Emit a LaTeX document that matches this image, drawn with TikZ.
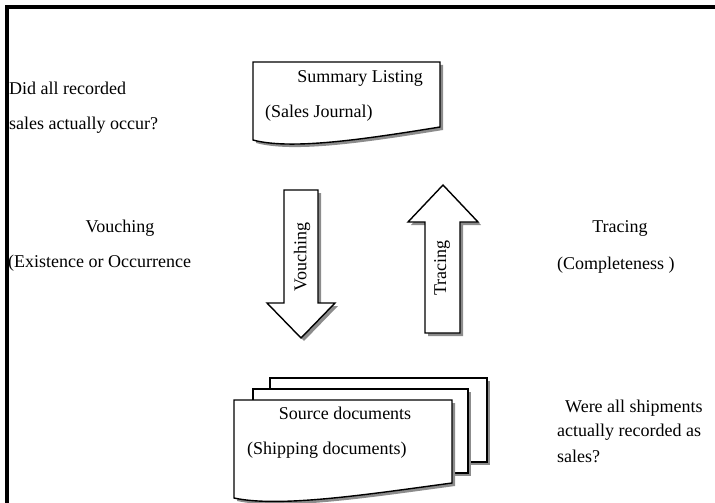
\documentclass[tikz,border=0pt]{standalone}
\usepackage{fontspec}
\setmainfont{Liberation Serif}
\begin{document}
\begin{tikzpicture}[x=1pt,y=1pt,
  shp/.style={draw=black, line width=1.4pt, fill=white, line join=miter},
  shd/.style={fill=black!45, draw=none, xshift=3pt, yshift=-3pt},
  lbl/.style={font=\fontsize{18}{21}\selectfont, inner sep=0pt},
  frame/.style={line width=4pt}]
\useasboundingbox (0,0) rectangle (715,-503);
\clip (0,0) rectangle (715,-503);
% frame
\draw[frame] (7,-540) -- (7,-7) -- (760,-7);
% summary listing document
\fill[shd] (253,-62) -- (440,-62) -- (440,-127) .. controls (360,-140) and (290,-150) .. (253,-140) -- cycle;
\draw[shp] (253,-62) -- (440,-62) -- (440,-127) .. controls (360,-140) and (290,-150) .. (253,-140) -- cycle;
\node[lbl] (sl) at (360,-78) {Summary Listing};
\node[lbl, anchor=west] (sj) at (265,-113) {(Sales Journal)};
% vouching arrow
\fill[shd] (284,-190) -- (318,-190) -- (318,-303) -- (335,-303) -- (301,-338) -- (267,-303) -- (284,-303) -- cycle;
\draw[shp] (284,-190) -- (318,-190) -- (318,-303) -- (335,-303) -- (301,-338) -- (267,-303) -- (284,-303) -- cycle;
\node[lbl, rotate=90] (va) at (302,-257) {Vouching};
% tracing arrow
\fill[shd] (425,-333) -- (460,-333) -- (460,-222) -- (478,-222) -- (443,-185) -- (408,-222) -- (425,-222) -- cycle;
\draw[shp] (425,-333) -- (460,-333) -- (460,-222) -- (478,-222) -- (443,-185) -- (408,-222) -- (425,-222) -- cycle;
\node[lbl, rotate=90] (ta) at (442,-268) {Tracing};
% source documents stack
\fill[shd] (270,-378) rectangle (487,-462);
\draw[shp] (270,-378) rectangle (487,-462);
\fill[shd] (253,-389) rectangle (468,-473);
\draw[shp] (253,-389) rectangle (468,-473);
\fill[shd] (234,-400) -- (452,-400) -- (452,-483) .. controls (370,-494) and (280,-508) .. (234,-498) -- cycle;
\draw[shp] (234,-400) -- (452,-400) -- (452,-483) .. controls (370,-494) and (280,-508) .. (234,-498) -- cycle;
\node[lbl] (sd) at (345,-413) {Source documents};
\node[lbl, anchor=west] (shd) at (247,-450) {(Shipping documents)};
% left texts
\node[lbl, anchor=west] (q1a) at (9,-88) {Did all recorded};
\node[lbl, anchor=west] (q1b) at (9,-125) {sales actually occur?};
\node[lbl] (vl) at (120,-228) {Vouching};
\node[lbl, anchor=west] (vl2) at (8,-263) {(Existence or Occurrence};
% right texts
\node[lbl] (tl) at (620,-228) {Tracing};
\node[lbl, anchor=west] (tl2) at (557,-265) {(Completeness )};
\node[lbl, anchor=west] (q2a) at (565,-408) {Were all shipments};
\node[lbl, anchor=west] (q2b) at (557,-432) {actually recorded as};
\node[lbl, anchor=west] (q2c) at (557,-456) {sales?};
\end{tikzpicture}
\end{document}
